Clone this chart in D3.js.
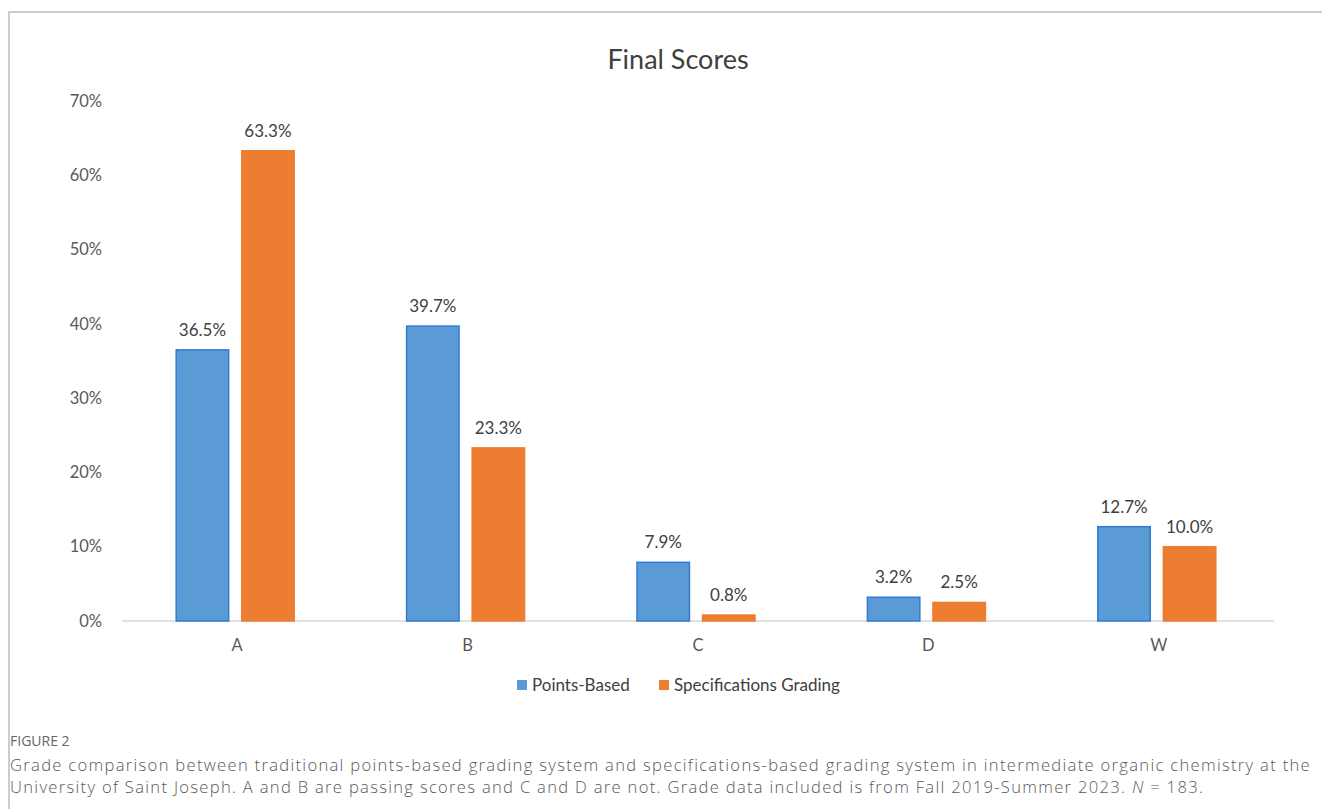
<!doctype html>
<html>
<head>
  <title>Final Scores</title>
  <script src="https://d3js.org/d3.v7.min.js"></script>
  <style>
  body {
    margin: 0;
    background: #fff;
  }

  svg {
    font-family: Lato, "Open Sans", sans-serif;
    display: block;
  }

  .frame {
    fill: none;
    stroke: #bdbdbd;
    stroke-width: 1.5;
  }

  .axis path,
  .axis line {
    display: none;
  }

  .axis text {
    fill: #595959;
    font-family: Lato, sans-serif;
  }

  .baseline {
    stroke: #d9d9d9;
    stroke-width: 1.5;
  }

  .value {
    fill: #404040;
    font-size: 17px;
    text-anchor: middle;
  }

  .legend text {
    fill: #404040;
    font-size: 17px;
  }

  .caption {
    fill: #595959;
    font-family: "Open Sans", sans-serif;
    font-weight: 300;
    font-size: 16.6px;
  }
</style>
</head>
<body>
  <script>
    // grades and the two grading systems (percent of students)
    var categories = ["A", "B", "C", "D", "W"];
    var series = ["Points-Based", "Specifications Grading"];
    var pointsBased = [36.5, 39.7, 7.9, 3.2, 12.7];
    var specsGrading = [63.3, 23.3, 0.8, 2.5, 10.0];
    var yTicks = [0, 10, 20, 30, 40, 50, 60, 70];

    var captionLines = [
      "Grade comparison between traditional points-based grading system and specifications-based grading system in intermediate organic chemistry at the",
      "University of Saint Joseph. A and B are passing scores and C and D are not. Grade data included is from Fall 2019-Summer 2023. "
    ];

    var width = 1322,
        height = 809,
        plotLeft = 122,
        plotRight = 1274,
        plotTop = 101,
        plotBottom = 621;

    var colour = d3.scaleOrdinal()
        .domain(series)
        .range(["#5b9bd5", "#ed7d31"]);

    var stroke = d3.scaleOrdinal()
        .domain(series)
        .range(["#2f7bd6", "#ed7d31"]);

    var x0 = d3.scaleBand()
        .domain(categories)
        .range([plotLeft, plotRight]);

    var x1 = d3.scaleBand()
        .domain(series)
        .range([0, 118])
        .paddingInner(0.2);

    var y = d3.scaleLinear()
        .domain([0, 70])
        .range([plotBottom, plotTop]);

    var rows = categories.map(function(c, i){
      return {category: c, values: [
        {series: series[0], value: pointsBased[i]},
        {series: series[1], value: specsGrading[i]}
      ]};
    });

    var svg = d3.select("body").append("svg")
        .attr("width", width)
        .attr("height", height);

    // outer figure box (only top and left edges fall in view)
    svg.append("rect")
        .attr("class", "frame")
        .attr("x", 9)
        .attr("y", 12)
        .attr("width", width + 20)
        .attr("height", height + 20);

    svg.append("text")
        .attr("x", 678)
        .attr("y", 69)
        .attr("text-anchor", "middle")
        .style("font-size", "27px")
        .style("fill", "#404040")
        .text("Final Scores");

    var yAxis = d3.axisLeft(y)
        .tickValues(yTicks)
        .tickSize(0)
        .tickPadding(20)
        .tickFormat(function(d){return d + "%";});

    svg.append("g")
        .attr("class", "axis")
        .attr("transform", "translate(" + plotLeft + ",0)")
        .call(yAxis)
        .selectAll("text")
        .style("font-size", "16.5px");

    svg.append("line")
        .attr("class", "baseline")
        .attr("x1", plotLeft)
        .attr("x2", plotRight)
        .attr("y1", y(0))
        .attr("y2", y(0));

    var xAxis = d3.axisBottom(x0)
        .tickSize(0)
        .tickPadding(18);

    svg.append("g")
        .attr("class", "axis")
        .attr("transform", "translate(0," + y(0) + ")")
        .call(xAxis)
        .selectAll("text")
        .style("font-size", "16.5px");

    var group = svg.selectAll(".group")
        .data(rows)
      .enter().append("g")
        .attr("class", "group")
        .attr("transform", function(d){
          return "translate(" + (x0(d.category) + (x0.bandwidth() - 118) / 2 - 2) + ",0)";
        });

    group.selectAll("rect")
        .data(function(d){return d.values;})
      .enter().append("rect")
        .attr("x", function(d){return x1(d.series);})
        .attr("y", function(d){return y(d.value);})
        .attr("width", x1.bandwidth())
        .attr("height", function(d){return y(0) - y(d.value);})
        .style("fill", function(d){return colour(d.series);})
        .style("stroke", function(d){return stroke(d.series);})
        .style("stroke-width", 1.5);

    group.selectAll(".value")
        .data(function(d){return d.values;})
      .enter().append("text")
        .attr("class", "value")
        .attr("x", function(d){return x1(d.series) + x1.bandwidth() / 2;})
        .attr("y", function(d){return y(d.value) - 14;})
        .text(function(d){return d.value.toFixed(1) + "%";});

    // legend
    var legend = svg.append("g")
        .attr("class", "legend")
        .attr("transform", "translate(517,685)");

    var legendX = [0, 142];
    series.forEach(function(s, i){
      legend.append("rect")
          .attr("x", legendX[i])
          .attr("y", -5)
          .attr("width", 10)
          .attr("height", 10)
          .style("fill", colour(s));
      legend.append("text")
          .attr("x", legendX[i] + 15)
          .attr("y", 6)
          .text(s);
    });

    // figure caption
    svg.append("text")
        .attr("x", 10)
        .attr("y", 746)
        .style("font-size", "14px")
        .style("fill", "#666")
        .style("font-family", "'Open Sans', sans-serif")
        .text("FIGURE 2");

    var line1 = svg.append("text")
        .attr("class", "caption")
        .attr("x", 10)
        .attr("y", 771)
        .text(captionLines[0]);

    var line2 = svg.append("text")
        .attr("class", "caption")
        .attr("x", 10)
        .attr("y", 793);
    line2.append("tspan").text(captionLines[1]);
    line2.append("tspan").style("font-style", "italic").text("N");
    line2.append("tspan").text(" = 183.");

    // spread the first caption line out to the figure width
    var extra = (1301 - line1.node().getComputedTextLength()) / captionLines[0].length;
    line1.style("letter-spacing", extra + "px");
    line2.style("letter-spacing", extra + "px");
  </script>
</body>
</html>
